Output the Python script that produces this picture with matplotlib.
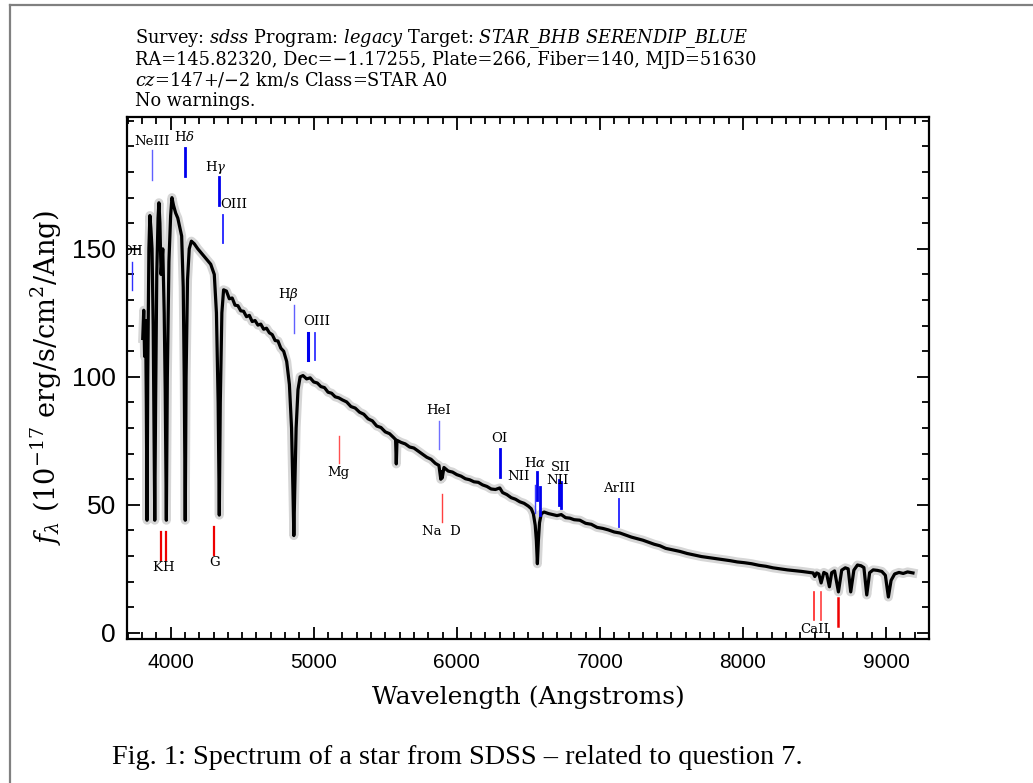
import matplotlib
matplotlib.use("Agg")
import matplotlib.pyplot as plt
from matplotlib.lines import Line2D
from matplotlib.ticker import MultipleLocator, FixedLocator

# ---------------- data ----------------
wave = [3805, 3812, 3818, 3825, 3830, 3835, 3840, 3848, 3855, 3862, 3870, 3878,
        3884, 3889, 3895, 3903, 3912, 3918, 3925, 3933, 3945, 3955, 3962, 3970,
        3977, 3988, 4000, 4009, 4020, 4035, 4050, 4065, 4077, 4088, 4095, 4102,
        4108, 4118, 4130, 4145, 4165, 4190, 4220, 4250, 4280, 4305, 4320, 4332,
        4340, 4347, 4358, 4370, 4390, 4410, 4430, 4450, 4470, 4490, 4510, 4530,
        4550, 4570, 4590, 4610, 4630, 4650, 4670, 4690, 4710, 4730, 4750, 4770,
        4790, 4811, 4830, 4845, 4855, 4861, 4867, 4877, 4890, 4905, 4925, 4950,
        4975, 5000, 5025, 5050, 5075, 5100, 5125, 5150, 5175, 5200, 5230, 5260,
        5290, 5320, 5350, 5380, 5410, 5440, 5470, 5500, 5530, 5560, 5572, 5577,
        5582, 5610, 5640, 5670, 5700, 5730, 5760, 5790, 5820, 5850, 5875, 5888,
        5893, 5898, 5910, 5940, 5970, 6000, 6030, 6060, 6090, 6120, 6150, 6180,
        6210, 6240, 6270, 6300, 6320, 6350, 6380, 6410, 6440, 6470, 6500, 6520,
        6535, 6548, 6556, 6563, 6570, 6578, 6590, 6610, 6640, 6670, 6700, 6730,
        6760, 6790, 6820, 6860, 6900, 6940, 6980, 7020, 7060, 7100, 7140, 7180,
        7220, 7260, 7300, 7340, 7380, 7420, 7460, 7510, 7560, 7610, 7660, 7710,
        7760, 7810, 7860, 7910, 7960, 8010, 8060, 8110, 8160, 8210, 8260, 8310,
        8360, 8410, 8460, 8490, 8502, 8515, 8530, 8546, 8565, 8585, 8604, 8620,
        8640, 8667, 8690, 8715, 8735, 8753, 8775, 8800, 8825, 8845, 8865, 8885,
        8910, 8940, 8970, 8995, 9016, 9035, 9060, 9090, 9120, 9150, 9188]
flux = [115, 126, 108, 122, 90, 44, 100, 150, 163, 158, 150, 120,
        80, 44, 90, 140, 162, 168, 160, 140, 150, 125, 95, 44,
        100, 145, 163, 170, 167, 164, 162, 158, 155, 135, 100, 44,
        100, 138, 150, 153, 152, 150, 148, 146, 144, 140, 125, 90,
        46, 90, 125, 134, 133.5, 130.5, 130.8, 128, 127.8, 125.8, 125.6, 123.5,
        124, 121.6, 122, 120.2, 120.6, 118.6, 119, 117.2, 116.5, 114.2, 114, 111.2,
        110, 106, 97, 80, 55, 38, 55, 80, 95, 100, 100.5, 99.2,
        99.6, 98, 97.6, 96.2, 95.8, 94, 93.6, 92.2, 91.8, 91, 90.2, 88.4,
        87.8, 86.2, 85.4, 83.6, 82.8, 80.8, 80.2, 78.5, 77.8, 76.2, 75.5, 66,
        75.2, 74.4, 73.8, 72.6, 72.2, 71, 69.8, 68.6, 67.8, 66.2, 65.4, 60,
        63, 60.5, 64.6, 63.2, 62.8, 61.8, 61.2, 60.2, 59.8, 59, 58.8, 57.8,
        57.2, 56.2, 56, 56.6, 54.8, 54, 52.8, 52.2, 51.2, 50.6, 49.5, 48.5,
        46.5, 42, 36, 27, 36, 43, 46.5, 47.2, 46.6, 46.2, 45.8, 46.2,
        45, 44.8, 44.2, 44, 42.8, 42.4, 41.2, 40.8, 40.2, 39.4, 39, 38.2,
        37.4, 36.8, 36.2, 35.4, 34.6, 34, 33, 32.4, 31.8, 31, 30.4, 29.8,
        29.4, 29, 28.6, 28.2, 27.7, 27.4, 27, 26.4, 26, 25.4, 25, 24.6,
        24.3, 24, 23.6, 23.4, 22, 23.4, 23, 19.5, 23.6, 23, 18, 23.5,
        24.2, 16, 24.5, 25.4, 25, 16, 24.5, 26.5, 26.2, 25.5, 14.8, 23.5,
        24.6, 24.4, 24, 22.5, 14, 20.5, 23, 23.6, 23.2, 23.8, 23.4]

# emission-line markers (blue)
em_names = ["OII", "NeIII", r"H$\delta$", r"H$\gamma$", "OIII", r"H$\beta$",
            "OIII", "", "HeI", "OI", "NII", r"H$\alpha$", "NII", "SII", "", "ArIII"]
em_waves = [3727, 3869, 4102, 4341, 4363, 4861, 4959, 5007, 5876, 6300,
            6548, 6563, 6583, 6716, 6731, 7135]
em_low = [134.0, 177.0, 178.5, 167.2, 152.3, 117.2, 106.6, 106.6, 71.9, 60.9,
          46.9, 52.0, 46.1, 50.0, 48.8, 41.4]
em_high = [144.9, 188.7, 189.5, 178.1, 163.3, 128.1, 117.2, 117.2, 82.8, 71.9,
           57.8, 62.9, 57.0, 59.8, 59.0, 52.3]
em_label_wave = [3727, 3869, 4094, 4317, 4442, 4820, 5023, 5023, 5876, 6300,
                 6428, 6549, 6705, 6728, 6731, 7135]
em_label_y = [148.8, 191.8, 193.8, 181.6, 167.2, 132.0, 121.5, 121.5, 86.7, 75.8,
              60.9, 66.4, 59.6, 64.6, 64.6, 56.2]

# absorption-line markers (red)
ab_names = ["K", "H", "G", "Mg", "Na  D", "CaII", "", ""]
ab_waves = [3934, 3968, 4304, 5175, 5894, 8498, 8542, 8662]
ab_low = [28.5, 28.5, 30.5, 66.4, 43.4, 5.0, 5.0, 2.7]
ab_high = [39.5, 39.5, 41.4, 77.0, 54.3, 16.0, 16.0, 13.7]
ab_label_wave = [3905, 3985, 4304, 5175, 5894, 8498, 8542, 8662]
ab_label_y = [25.4, 25.4, 27.3, 62.5, 39.5, 1.2, 1.2, 1.2]

y_major_ticks = [0, 50, 100, 150]

title_lines = [
    r"Survey: $\mathit{sdss}$ Program: $\mathit{legacy}$ Target: $\mathit{STAR\_BHB\ SERENDIP\_BLUE}$",
    "RA=145.82320, Dec=\u22121.17255, Plate=266, Fiber=140, MJD=51630",
    r"$\mathit{cz}$=$\mathit{147}$+/$-$$\mathit{2}$ km/s Class=STAR A0",
    "No warnings.",
]
caption = "Fig. 1: Spectrum of a star from SDSS \u2013 related to question 7."

# ---------------- styling ----------------
plt.rcParams["mathtext.fontset"] = "dejavuserif"
W, H = 1033, 783
fig = plt.figure(figsize=(W / 100, H / 100), dpi=100)
fig.patch.set_facecolor("white")

def fx(px):
    return px / W

def fy(py):
    return 1 - py / H

ax = fig.add_axes([fx(127), fy(639), fx(929) - fx(127), fy(117) - fy(639)])
ax.set_xlim(3695, 9300)
ax.set_ylim(-2.4, 201.5)

ax.plot(wave, flux, color="#d6d6d6", lw=6.5, solid_joinstyle="round", zorder=2)
ax.plot(wave, flux, color="black", lw=2.3, zorder=3)

em_lw = [1.0, 1.0, 2.0, 2.0, 1.3, 1.0, 2.2, 1.3, 1.0, 2.0, 1.0, 2.0, 2.0, 2.0, 2.0, 1.3]
em_col = ["#3030ff", "#6060ff", "#0000ee", "#0000ee", "#2020ff", "#6060ff", "#0000ee",
          "#3030ff", "#7070ff", "#0000ee", "#4040ff", "#0000ee", "#0000ee", "#0000ee",
          "#0000ee", "#2020ff"]
for i, lam in enumerate(em_waves):
    ax.plot([lam, lam], [em_low[i], em_high[i]], color=em_col[i], lw=em_lw[i], zorder=4)
    if em_names[i]:
        ax.text(em_label_wave[i], em_label_y[i], em_names[i], ha="center", va="center",
                fontsize=9.5, family="DejaVu Serif", color="black", clip_on=True, zorder=5)

ab_lw = [1.6, 1.6, 1.6, 1.0, 1.0, 1.2, 1.2, 1.8]
ab_col = ["#ee0000", "#ee0000", "#ee0000", "#ff5050", "#ff4040", "#ff2020", "#ff4040", "#ee0000"]
for i, lam in enumerate(ab_waves):
    ax.plot([lam, lam], [ab_low[i], ab_high[i]], color=ab_col[i], lw=ab_lw[i], zorder=4)
    if ab_names[i]:
        ax.text(ab_label_wave[i], ab_label_y[i], ab_names[i], ha="center", va="center",
                fontsize=9.5, family="DejaVu Serif", color="black", clip_on=True, zorder=5)

for s in ax.spines.values():
    s.set_linewidth(1.6)
ax.xaxis.set_major_locator(MultipleLocator(1000))
ax.xaxis.set_minor_locator(MultipleLocator(100))
ax.yaxis.set_major_locator(FixedLocator(y_major_ticks))
ax.yaxis.set_minor_locator(MultipleLocator(10))
ax.tick_params(which="both", direction="in", top=True, right=True, width=1.3)
ax.tick_params(which="major", length=9)
ax.tick_params(which="minor", length=5)
ax.tick_params(axis="x", which="major", labelsize=15, pad=10)
ax.tick_params(axis="y", which="major", labelsize=19, pad=8)
for lab in ax.get_xticklabels() + ax.get_yticklabels():
    lab.set_family("Liberation Sans")

ax.set_xlabel("Wavelength (Angstroms)", family="DejaVu Serif", fontsize=18, labelpad=10)
ax.set_ylabel(r"$f_\lambda$ (10$^{-17}$ erg/s/cm$^2$/Ang)", family="DejaVu Serif",
              fontsize=19.5, labelpad=6)

for k, line in enumerate(title_lines):
    fig.text(fx(135), fy(39 + 20.7 * k), line, ha="left", va="center",
             family="DejaVu Serif", fontsize=12.8)

fig.text(fx(112), fy(757), caption, ha="left", va="center",
         family="Liberation Serif", fontsize=20.3)

# gray outer frame (left and top edges)
fig.add_artist(Line2D([fx(10), fx(10)], [fy(5), 0], color="#808080", lw=1.6,
                      transform=fig.transFigure))
fig.add_artist(Line2D([fx(10), 1], [fy(5), fy(5)], color="#808080", lw=1.6,
                      transform=fig.transFigure))

fig.savefig("out.png", dpi=100, facecolor="white")
